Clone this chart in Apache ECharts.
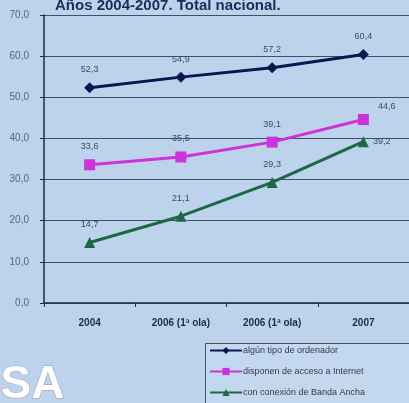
<!DOCTYPE html>
<html>
<head>
<meta charset="utf-8">
<script src="https://cdn.jsdelivr.net/npm/echarts@6/dist/echarts.min.js"></script>
<style>
html,body{margin:0;padding:0;background:#bdd3ec;}
#c{width:409px;height:403px;}
</style>
</head>
<body>
<div id="c"></div>
<script>
var categories = ['2004', '2006 (1ª ola)', '2006 (1ª ola)', '2007'];
var yTicks = [0, 10, 20, 30, 40, 50, 60, 70];
var seriesNames = ['algún tipo de ordenador', 'disponen de acceso a Internet', 'con conexión de Banda Ancha'];
var ordenador = [52.3, 54.9, 57.2, 60.4];
var internet = [33.6, 35.5, 39.1, 44.6];
var bandaAncha = [14.7, 21.1, 29.3, 39.2];

function fmt(v){ return v.toFixed(1).replace('.', ','); }

var chart = echarts.init(document.getElementById('c'));
var labelBase = { show: true, fontSize: 9, color: '#3a4a66', fontFamily: 'Liberation Sans, Arial', formatter: function(p){ return fmt(p.value); } };

function mkData(arr, lastPos){
  return arr.map(function(v, i){
    var d = { value: v };
    if (i === arr.length - 1 && lastPos) d.label = { position: lastPos, distance: 4 };
    return d;
  });
}

var legendTops = [346, 367, 388];
var legends = seriesNames.map(function(n, i){
  return {
    orient: 'vertical', left: 209, top: legendTops[i], padding: 0,
    itemWidth: 32, itemHeight: 9,
    textStyle: { fontSize: 9, color: '#333a48', fontFamily: 'Liberation Sans, Arial', padding: [0,0,0,-4] },
    data: [n]
  };
});

chart.setOption({
  backgroundColor: '#bdd3ec',
  animation: false,
  title: {
    text: 'Años 2004-2007. Total nacional.',
    left: 50, top: -7,
    textStyle: { fontSize: 15, fontWeight: 'bold', color: '#1c2b5c', fontFamily: 'Liberation Sans, Arial' }
  },
  grid: { left: 44, right: -4, top: 15, bottom: 100 },
  xAxis: {
    type: 'category',
    data: categories,
    boundaryGap: true,
    axisLine: { lineStyle: { color: '#1e2a44', width: 1.5 } },
    axisTick: { show: true, length: 4, lineStyle: { color: '#1e2a44' } },
    axisLabel: { fontSize: 10, fontWeight: 'bold', color: '#1e2a44', margin: 15, fontFamily: 'Liberation Sans, Arial' }
  },
  yAxis: {
    type: 'value',
    min: 0, max: 70, interval: 10,
    axisLine: { show: true, lineStyle: { color: '#1e2a44', width: 1.5 } },
    axisTick: { show: true, length: 4, lineStyle: { color: '#1e2a44' } },
    splitLine: { lineStyle: { color: '#3f5068', width: 1 } },
    axisLabel: { fontSize: 10, color: '#5a6678', margin: 15, fontFamily: 'Liberation Sans, Arial', formatter: function(v){ return fmt(v); } }
  },
  legend: legends,
  graphic: [
    { type: 'rect', left: 205, top: 343, shape: { width: 210, height: 70 }, style: { fill: '#c3d7ee', stroke: '#4a5060', lineWidth: 1 }, z: 0 },
    { type: 'text', left: 0, top: 362, style: { text: 'SA', font: 'bold 46px Liberation Sans, Arial', fill: '#ffffff', stroke: '#9aa4b4', lineWidth: 1 }, z: 0 }
  ],
  series: [
    { name: seriesNames[0], type: 'line', data: mkData(ordenador), symbol: 'diamond', symbolSize: 11,
      lineStyle: { color: '#0b1550', width: 3 }, itemStyle: { color: '#0b1550' },
      label: Object.assign({}, labelBase, { position: 'top', distance: 8 }) },
    { name: seriesNames[1], type: 'line', data: mkData(internet, [20, -12]), symbol: 'rect', symbolSize: 11,
      lineStyle: { color: '#cc33d9', width: 3 }, itemStyle: { color: '#cc33d9' },
      label: Object.assign({}, labelBase, { position: 'top', distance: 8 }) },
    { name: seriesNames[2], type: 'line', data: mkData(bandaAncha, 'right'), symbol: 'triangle', symbolSize: 11,
      lineStyle: { color: '#1d6845', width: 3 }, itemStyle: { color: '#1d6845' },
      label: Object.assign({}, labelBase, { position: 'top', distance: 8 }) }
  ]
});
</script>
</body>
</html>
